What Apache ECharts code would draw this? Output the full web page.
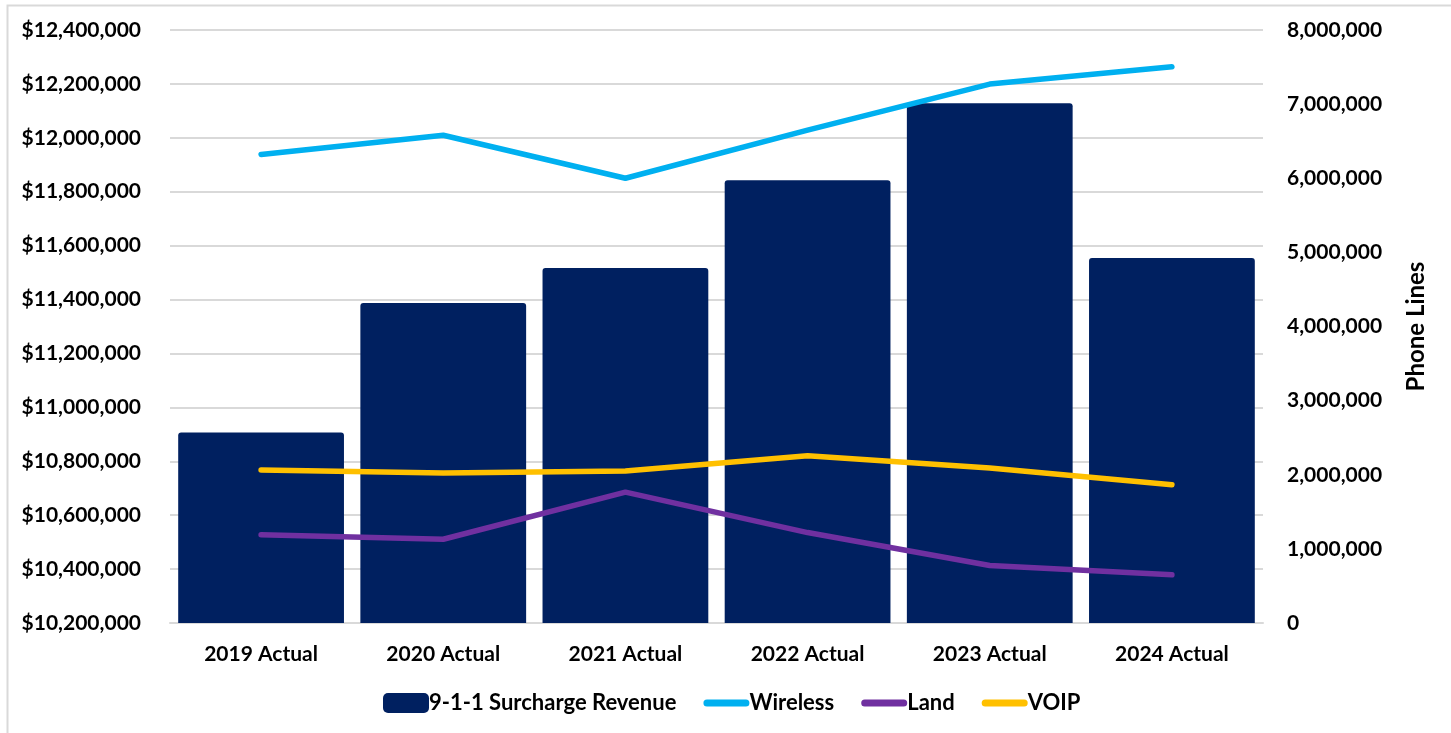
<!DOCTYPE html>
<html>
<head>
<meta charset="utf-8">
<script src="https://cdn.jsdelivr.net/npm/echarts@6/dist/echarts.min.js"></script>
<style>
  html, body { margin: 0; padding: 0; background: #ffffff; }
  #chart { width: 1451px; height: 733px; }
</style>
</head>
<body>
<div id="chart"></div>
<script>
// Chart data
const categories = ['2019 Actual', '2020 Actual', '2021 Actual', '2022 Actual', '2023 Actual', '2024 Actual'];
const revenue  = [10907000, 11387000, 11517000, 11843000, 12128000, 11554000];
const wireless = [6320000, 6580000, 6000000, 6650000, 7270000, 7505000];
const land     = [1190000, 1130000, 1765000, 1220000, 775000, 650000];
const voip     = [2065000, 2025000, 2050000, 2255000, 2090000, 1865000];

const FONT = 'Lato, "Liberation Sans", sans-serif';
const fmtMoney = v => '$' + v.toLocaleString('en-US');
const fmtNum = v => v.toLocaleString('en-US');

// Thick rounded legend swatch for line series, boxed to the same size as the bar swatch
const lineIcon = 'path://M0,0 M3.5,6.5 L42.5,6.5 A3.5,3.5 0 0 1 42.5,13.5 L3.5,13.5 A3.5,3.5 0 0 1 3.5,6.5 Z M46,20';

const chart = echarts.init(document.getElementById('chart'), null, { renderer: 'canvas' });

chart.setOption({
  backgroundColor: '#ffffff',
  animation: false,
  textStyle: { fontFamily: FONT },
  graphic: [{
    type: 'rect',
    shape: { x: 7.5, y: 5.5, width: 1460, height: 740 },
    style: { fill: 'none', stroke: '#d9d9d9', lineWidth: 2 },
    silent: true, z: -10
  }],
  grid: { left: 170, right: 188, top: 30, bottom: 110, containLabel: false },
  legend: {
    left: 383,
    top: 692,
    padding: 0,
    itemWidth: 46,
    itemHeight: 20,
    itemGap: 27,
    textStyle: { fontFamily: FONT, fontSize: 22, fontWeight: 'bold', color: '#000', padding: [0, 0, 0, -5] },
    data: [
      { name: '9-1-1 Surcharge Revenue', icon: 'roundRect' },
      { name: 'Wireless', icon: lineIcon },
      { name: 'Land', icon: lineIcon },
      { name: 'VOIP', icon: lineIcon }
    ]
  },
  xAxis: {
    type: 'category',
    data: categories,
    axisTick: { show: false },
    axisLine: { lineStyle: { color: '#d9d9d9', width: 2 } },
    axisLabel: { margin: 21, fontFamily: FONT, fontSize: 21, fontWeight: 'bold', color: '#000' }
  },
  yAxis: [
    {
      type: 'value',
      min: 10200000,
      max: 12400000,
      interval: 200000,
      axisLine: { show: false },
      axisTick: { show: false },
      splitLine: { lineStyle: { color: '#d9d9d9', width: 2 } },
      axisLabel: { margin: 29, fontFamily: FONT, fontSize: 21, fontWeight: 'bold', color: '#000', formatter: fmtMoney }
    },
    {
      type: 'value',
      position: 'right',
      min: 0,
      max: 8000000,
      interval: 1000000,
      name: 'Phone Lines',
      nameLocation: 'middle',
      nameRotate: 90,
      nameGap: 141,
      nameTextStyle: { fontFamily: FONT, fontSize: 24, fontWeight: 'bold', color: '#000' },
      axisLine: { show: false },
      axisTick: { show: false },
      splitLine: { show: false },
      axisLabel: { margin: 24, fontFamily: FONT, fontSize: 21, fontWeight: 'bold', color: '#000', formatter: fmtNum }
    }
  ],
  series: [
    {
      name: '9-1-1 Surcharge Revenue',
      type: 'bar',
      yAxisIndex: 0,
      data: revenue,
      barCategoryGap: '9%',
      itemStyle: { color: '#002060', borderRadius: [3, 3, 0, 0] },
      z: 1
    },
    {
      name: 'Wireless',
      type: 'line',
      yAxisIndex: 1,
      data: wireless,
      symbol: 'none',
      color: '#00B0F0',
      lineStyle: { color: '#00B0F0', width: 5.5, cap: 'round', join: 'round' },
      z: 3
    },
    {
      name: 'Land',
      type: 'line',
      yAxisIndex: 1,
      data: land,
      symbol: 'none',
      color: '#7030A0',
      lineStyle: { color: '#7030A0', width: 5.5, cap: 'round', join: 'round' },
      z: 3
    },
    {
      name: 'VOIP',
      type: 'line',
      yAxisIndex: 1,
      data: voip,
      symbol: 'none',
      color: '#FFC000',
      lineStyle: { color: '#FFC000', width: 5.5, cap: 'round', join: 'round' },
      z: 3
    }
  ]
});
</script>
</body>
</html>
